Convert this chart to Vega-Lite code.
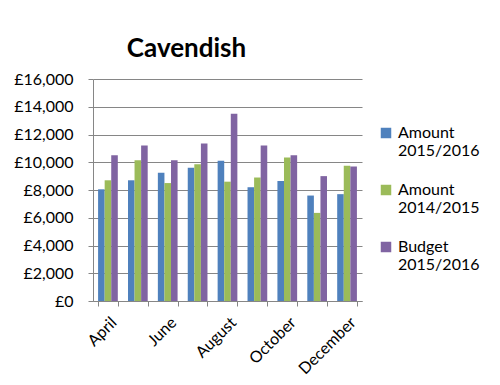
{
  "$schema": "https://vega.github.io/schema/vega-lite/v6.json",
  "autosize": {"type": "none"},
  "width": 269,
  "height": 222,
  "padding": {"left": 93, "top": 79, "right": 138, "bottom": 84},
  "background": "white",
  "title": {"text": "Cavendish", "font": "Lato", "fontSize": 26, "fontWeight": "bold", "color": "black", "anchor": "middle", "dx": -41, "offset": 9},
  "config": {"view": {"stroke": null}, "font": "Lato"},
  "data": {"values": [
    {"month": "April", "series": "Amount 2015/2016", "value": 8050},
    {"month": "April", "series": "Amount 2014/2015", "value": 8700},
    {"month": "April", "series": "Budget 2015/2016", "value": 10500},
    {"month": "May", "series": "Amount 2015/2016", "value": 8700},
    {"month": "May", "series": "Amount 2014/2015", "value": 10150},
    {"month": "May", "series": "Budget 2015/2016", "value": 11200},
    {"month": "June", "series": "Amount 2015/2016", "value": 9250},
    {"month": "June", "series": "Amount 2014/2015", "value": 8500},
    {"month": "June", "series": "Budget 2015/2016", "value": 10150},
    {"month": "July", "series": "Amount 2015/2016", "value": 9600},
    {"month": "July", "series": "Amount 2014/2015", "value": 9850},
    {"month": "July", "series": "Budget 2015/2016", "value": 11350},
    {"month": "August", "series": "Amount 2015/2016", "value": 10100},
    {"month": "August", "series": "Amount 2014/2015", "value": 8600},
    {"month": "August", "series": "Budget 2015/2016", "value": 13500},
    {"month": "September", "series": "Amount 2015/2016", "value": 8200},
    {"month": "September", "series": "Amount 2014/2015", "value": 8900},
    {"month": "September", "series": "Budget 2015/2016", "value": 11200},
    {"month": "October", "series": "Amount 2015/2016", "value": 8650},
    {"month": "October", "series": "Amount 2014/2015", "value": 10350},
    {"month": "October", "series": "Budget 2015/2016", "value": 10500},
    {"month": "November", "series": "Amount 2015/2016", "value": 7600},
    {"month": "November", "series": "Amount 2014/2015", "value": 6350},
    {"month": "November", "series": "Budget 2015/2016", "value": 9000},
    {"month": "December", "series": "Amount 2015/2016", "value": 7700},
    {"month": "December", "series": "Amount 2014/2015", "value": 9750},
    {"month": "December", "series": "Budget 2015/2016", "value": 9700}
  ]},
  "mark": {"type": "bar"},
  "encoding": {
    "x": {
      "field": "month", "type": "nominal",
      "sort": ["April","May","June","July","August","September","October","November","December"],
      "scale": {"paddingInner": 0.34, "paddingOuter": 0.17},
      "axis": {
        "title": null, "labelAngle": -45, "labelFontSize": 16, "labelColor": "black",
        "labelExpr": "indexof(['April','June','August','October','December'], datum.value) >= 0 ? datum.value : ''",
        "tickBand": "extent", "tickColor": "#868686", "tickSize": 5, "domainColor": "#868686",
        "labelPadding": 8
      }
    },
    "xOffset": {"field": "series", "type": "nominal", "sort": ["Amount 2015/2016","Amount 2014/2015","Budget 2015/2016"], "scale": {"paddingInner": 0}},
    "y": {
      "field": "value", "type": "quantitative",
      "scale": {"domain": [0, 16000]},
      "axis": {
        "title": null, "values": [0,2000,4000,6000,8000,10000,12000,14000,16000],
        "labelExpr": "'£' + format(datum.value, ',')",
        "labelFontSize": 16, "labelColor": "black",
        "gridColor": "#868686", "gridOpacity": 1, "domainColor": "#868686",
        "tickColor": "#868686", "tickSize": 5, "labelPadding": 15
      }
    },
    "color": {
      "field": "series", "type": "nominal",
      "sort": ["Amount 2015/2016","Amount 2014/2015","Budget 2015/2016"],
      "scale": {"range": ["#4F81BD", "#9BBB59", "#8064A2"]},
      "legend": {
        "title": null, "orient": "none", "legendX": 285, "legendY": 46,
        "symbolType": "square", "symbolSize": 110, "symbolStrokeWidth": 0,
        "labelFontSize": 16, "labelColor": "black", "labelLineHeight": 20,
        "labelOffset": 4,
        "labelExpr": "split(datum.label, ' ')",
        "rowPadding": 23, "labelLimit": 200
      }
    }
  }
}
